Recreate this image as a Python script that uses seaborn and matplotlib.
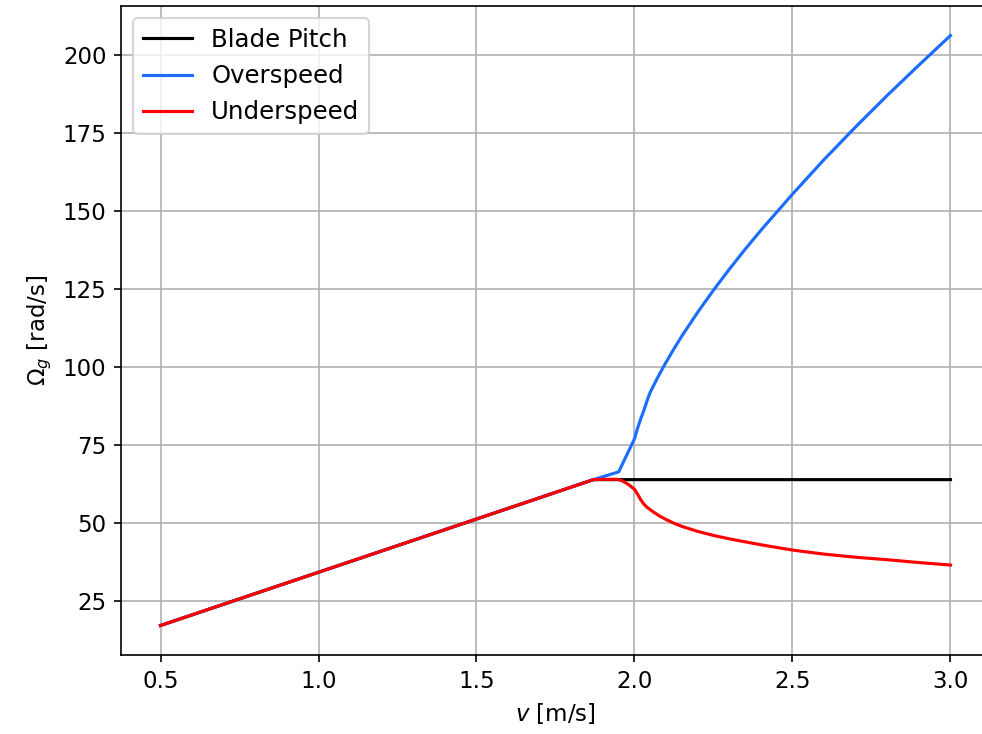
import matplotlib
matplotlib.use("Agg")
import matplotlib.pyplot as plt
import seaborn as sns
import pandas as pd

# Blade pitch control
v_pitch = [0.5, 1.87, 3.0]
w_pitch = [17.1, 63.9, 63.9]

# Overspeed
v_over = [0.5, 1.87, 1.95, 2.0, 2.01, 2.02, 2.03, 2.04, 2.05, 2.075, 2.1, 2.125,
          2.15, 2.2, 2.25, 2.3, 2.35, 2.4, 2.5, 2.6, 2.7, 2.8, 2.9, 3.0]
w_over = [17.1, 63.9, 66.4, 77.0, 80.5, 83.5, 86.2, 89.3, 92.0, 97.0, 101.6, 105.9,
          110.0, 117.6, 124.7, 131.4, 137.8, 143.9, 155.5, 166.6, 177.1, 187.2, 196.9, 206.4]

# Underspeed
v_under = [0.5, 1.87, 1.90, 1.945, 1.96, 1.98, 2.0, 2.01, 2.02, 2.03, 2.04, 2.06,
           2.08, 2.1, 2.125, 2.15, 2.2, 2.25, 2.3, 2.4, 2.5, 2.6, 2.7, 2.8, 2.9, 3.0]
w_under = [17.1, 63.9, 64.0, 64.0, 63.6, 62.4, 60.8, 59.2, 57.4, 56.0, 55.0, 53.5,
           52.2, 51.1, 49.9, 48.9, 47.3, 46.0, 44.9, 43.0, 41.3, 40.0, 39.0, 38.2, 37.3, 36.5]

series_names = ["Blade Pitch", "Overspeed", "Underspeed"]
colors = ["#000000", "#1a6dff", "#ff0000"]

frames = []
for name, vs, ws in zip(series_names, [v_pitch, v_over, v_under], [w_pitch, w_over, w_under]):
    frames.append(pd.DataFrame({"v": vs, "w": ws, "series": name}))
df = pd.concat(frames, ignore_index=True)

plt.rcParams["font.size"] = 11
fig = plt.figure(figsize=(9.82 / 1.5, 7.34 / 1.5), dpi=150)
ax = fig.add_axes([121 / 982, 79 / 734, (990 - 121) / 982, (655 - 6) / 734])

sns.lineplot(data=df, x="v", y="w", hue="series", hue_order=series_names,
             palette=dict(zip(series_names, colors)), sort=False,
             linewidth=1.5, ax=ax, estimator=None)

ax.grid(True, color="#b0b0b0", linewidth=0.8)
ax.set_axisbelow(True)
ax.set_xticks([0.5, 1.0, 1.5, 2.0, 2.5, 3.0])
ax.set_yticks([25, 50, 75, 100, 125, 150, 175, 200])
ax.set_xlabel(r"$v$ [m/s]")
ax.set_ylabel(r"$\Omega_g$ [rad/s]")
ax.legend(loc="upper left", fontsize=11.7, title=None)

fig.savefig("out.png", dpi=150)
